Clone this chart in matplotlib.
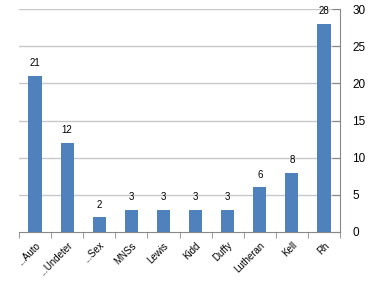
import matplotlib
matplotlib.use("Agg")
import matplotlib.pyplot as plt
import numpy as np

categories = ["...Auto", "...Undeter", "...Sex", "MNSs", "Lewis", "Kidd", "Duffy", "Lutheran", "Kell", "Rh"]
values = [21, 12, 2, 3, 3, 3, 3, 6, 8, 28]
yticks = [0, 5, 10, 15, 20, 25, 30]

plt.rcParams['font.family'] = ['Liberation Sans', 'DejaVu Sans']
fig = plt.figure(figsize=(3.77, 2.89), dpi=100)
ax = fig.add_axes([19/377, 1 - 232/289, (340-19)/377, (232-9)/289])

x = np.arange(len(categories))
ax.bar(x, values, width=0.41, color="#4F81BD", zorder=3)
for xi, v in zip(x, values):
    ax.text(xi, v + 1.0, str(v), ha="center", va="bottom", fontsize=7, color="black")

ax.set_xlim(-0.5, len(categories) - 0.5)
ax.set_ylim(0, 30)
ax.set_yticks(yticks)
ax.yaxis.tick_right()
ax.yaxis.set_label_position("right")
ax.tick_params(axis="y", direction="in", length=6, color="#888888", labelsize=8.5, pad=9)
for t in yticks[1:]:
    ax.axhline(t, color="#C8C8C8", lw=1.0, zorder=1)

ax.set_xticks(x)
ax.set_xticklabels(categories, rotation=45, ha="right", rotation_mode="anchor", fontsize=7)
ax.tick_params(axis="x", length=0, pad=6)
ax.set_xticks(np.arange(-0.5, len(categories), 1), minor=True)
ax.tick_params(axis="x", which="minor", length=4, color="#888888", direction="out")

for s in ["top", "left"]:
    ax.spines[s].set_visible(False)
ax.spines["right"].set_color("#888888")
ax.spines["bottom"].set_color("#888888")

fig.savefig("out.png", dpi=100)
